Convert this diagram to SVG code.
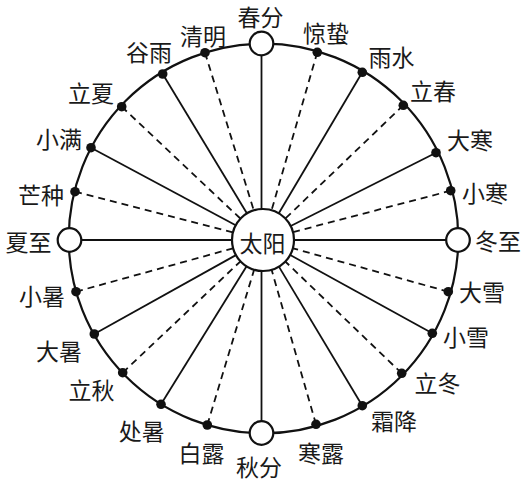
<svg xmlns="http://www.w3.org/2000/svg" width="527" height="482" viewBox="0 0 527 482">
<style>
.lbl{font-family:"Noto Sans CJK SC","Noto Sans CJK TC",sans-serif;font-size:23px;fill:#1a1a1a;text-anchor:middle;dominant-baseline:central}
.sp{stroke:#111;stroke-width:1.8;fill:none}
.ds{stroke:#111;stroke-width:1.8;fill:none;stroke-dasharray:7 5}
.dot{fill:#111}
.open{fill:#fff;stroke:#111;stroke-width:2.2}
</style>
<rect width="527" height="482" fill="#fff"/>
<g id="orbit"><circle cx="263.5" cy="238.5" r="194.8" fill="none" stroke="#111" stroke-width="2.2"/></g>
<g id="connectors">
<line class="sp" x1="261.5" y1="55.5" x2="261.5" y2="209.2"/>
<line class="ds" x1="205" y1="52.7" x2="253.8" y2="210.4"/>
<line class="sp" x1="162.7" y1="74" x2="247" y2="213.5"/>
<line class="ds" x1="121.7" y1="106.7" x2="240.5" y2="218.7"/>
<line class="sp" x1="91" y1="147.7" x2="235.7" y2="225.3"/>
<line class="ds" x1="75" y1="191.7" x2="233" y2="232.3"/>
<line class="sp" x1="81.5" y1="240" x2="232" y2="240"/>
<line class="ds" x1="76" y1="291.7" x2="233.1" y2="248.3"/>
<line class="sp" x1="94.3" y1="334" x2="235.9" y2="255.1"/>
<line class="ds" x1="122.7" y1="372.7" x2="240.5" y2="261.3"/>
<line class="sp" x1="161" y1="404.3" x2="246.6" y2="266.3"/>
<line class="ds" x1="207.3" y1="425" x2="254.1" y2="269.7"/>
<line class="sp" x1="261.5" y1="421.3" x2="261.5" y2="270.9"/>
<line class="ds" x1="316" y1="424.3" x2="271.6" y2="269.8"/>
<line class="sp" x1="362.3" y1="405.7" x2="278.9" y2="266.6"/>
<line class="ds" x1="401.7" y1="373.3" x2="285.3" y2="261.5"/>
<line class="sp" x1="432.3" y1="333.3" x2="290.2" y2="255"/>
<line class="ds" x1="448.3" y1="291.7" x2="292.9" y2="248.3"/>
<line class="sp" x1="446" y1="240" x2="294" y2="240"/>
<line class="ds" x1="450.7" y1="190.7" x2="293" y2="232.1"/>
<line class="sp" x1="436" y1="152.7" x2="290.7" y2="226"/>
<line class="ds" x1="403.3" y1="105.3" x2="285.4" y2="218.5"/>
<line class="sp" x1="362.3" y1="72.3" x2="278.8" y2="213.3"/>
<line class="ds" x1="317.3" y1="52.3" x2="271.6" y2="210.2"/>
</g>
<g id="sun"><circle class="open" cx="263" cy="240" r="31"/><text class="lbl" x="262.5" y="242">太阳</text></g>
<g id="chunfen"><circle class="open" cx="261.5" cy="43.5" r="11.8"/><text class="lbl" x="260.5" y="16">春分</text></g>
<g id="qingming"><circle class="dot" cx="205" cy="52.7" r="4.8"/><text class="lbl" x="203" y="34.5">清明</text></g>
<g id="guyu"><circle class="dot" cx="162.7" cy="74" r="4.8"/><text class="lbl" x="149" y="51">谷雨</text></g>
<g id="lixia"><circle class="dot" cx="121.7" cy="106.7" r="4.8"/><text class="lbl" x="91" y="92">立夏</text></g>
<g id="xiaoman"><circle class="dot" cx="91" cy="147.7" r="4.8"/><text class="lbl" x="59" y="138">小满</text></g>
<g id="mangzhong"><circle class="dot" cx="75" cy="191.7" r="4.8"/><text class="lbl" x="41" y="194">芒种</text></g>
<g id="xiazhi"><circle class="open" cx="69.5" cy="240" r="11.8"/><text class="lbl" x="28.5" y="241">夏至</text></g>
<g id="xiaoshu"><circle class="dot" cx="76" cy="291.7" r="4.8"/><text class="lbl" x="42" y="295">小暑</text></g>
<g id="dashu"><circle class="dot" cx="94.3" cy="334" r="4.8"/><text class="lbl" x="59" y="350">大暑</text></g>
<g id="liqiu"><circle class="dot" cx="122.7" cy="372.7" r="4.8"/><text class="lbl" x="91.5" y="389">立秋</text></g>
<g id="chushu"><circle class="dot" cx="161" cy="404.3" r="4.8"/><text class="lbl" x="141.7" y="430">处暑</text></g>
<g id="bailu"><circle class="dot" cx="207.3" cy="425" r="4.8"/><text class="lbl" x="201.5" y="452">白露</text></g>
<g id="qiufen"><circle class="open" cx="261.5" cy="433" r="11.8"/><text class="lbl" x="259" y="466">秋分</text></g>
<g id="hanlu"><circle class="dot" cx="316" cy="424.3" r="4.8"/><text class="lbl" x="321" y="452">寒露</text></g>
<g id="shuangjiang"><circle class="dot" cx="362.3" cy="405.7" r="4.8"/><text class="lbl" x="394" y="420">霜降</text></g>
<g id="lidong"><circle class="dot" cx="401.7" cy="373.3" r="4.8"/><text class="lbl" x="437.5" y="382">立冬</text></g>
<g id="xiaoxue"><circle class="dot" cx="432.3" cy="333.3" r="4.8"/><text class="lbl" x="466" y="336">小雪</text></g>
<g id="daxue"><circle class="dot" cx="448.3" cy="291.7" r="4.8"/><text class="lbl" x="482" y="291">大雪</text></g>
<g id="dongzhi"><circle class="open" cx="458" cy="240" r="11.8"/><text class="lbl" x="498" y="240">冬至</text></g>
<g id="xiaohan"><circle class="dot" cx="450.7" cy="190.7" r="4.8"/><text class="lbl" x="485" y="192">小寒</text></g>
<g id="dahan"><circle class="dot" cx="436" cy="152.7" r="4.8"/><text class="lbl" x="470" y="139">大寒</text></g>
<g id="lichun"><circle class="dot" cx="403.3" cy="105.3" r="4.8"/><text class="lbl" x="433" y="90">立春</text></g>
<g id="yushui"><circle class="dot" cx="362.3" cy="72.3" r="4.8"/><text class="lbl" x="391.5" y="56">雨水</text></g>
<g id="jingzhe"><circle class="dot" cx="317.3" cy="52.3" r="4.8"/><text class="lbl" x="326" y="32">惊蛰</text></g>
</svg>
